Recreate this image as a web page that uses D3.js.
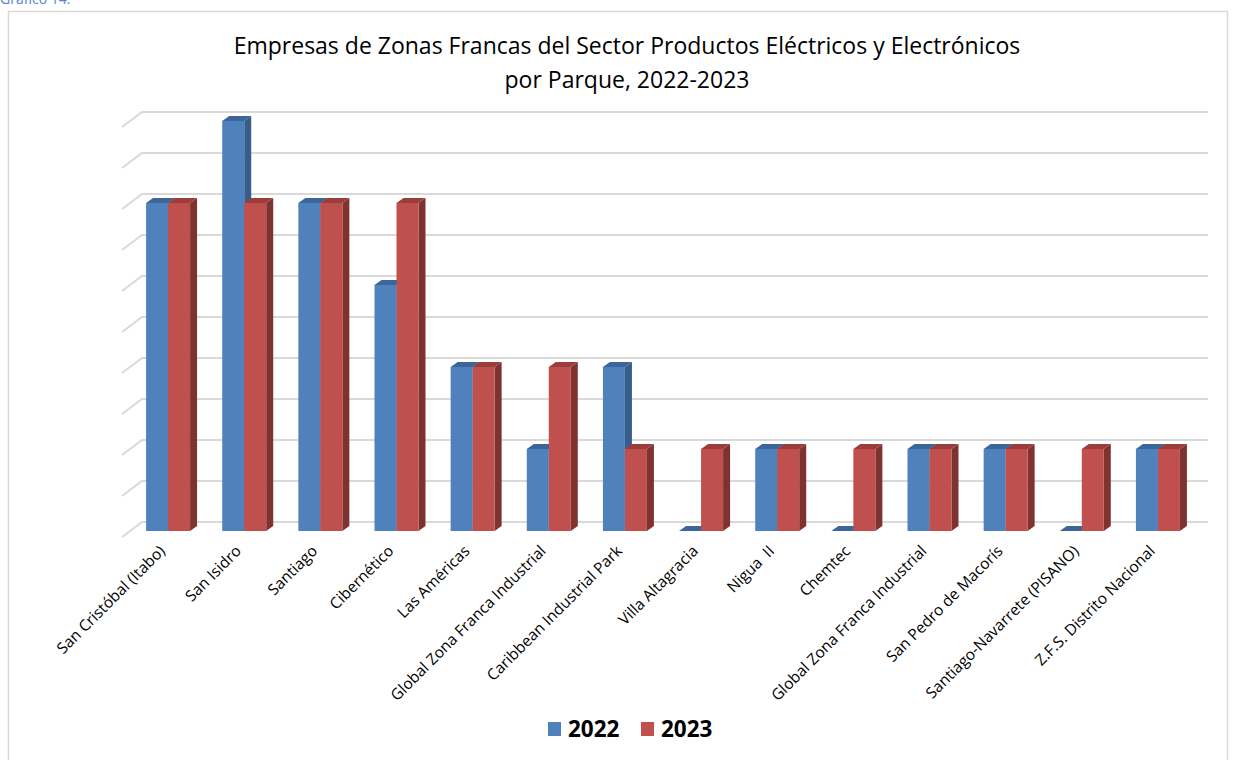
<!DOCTYPE html>
<html><head><meta charset="utf-8">
<script src="https://cdn.jsdelivr.net/npm/d3@7"></script>
<style>body{margin:0;background:#fff}svg{display:block}</style>
</head><body>
<script>
const categories = ["San Cristóbal (Itabo)","San Isidro","Santiago","Cibernético","Las Américas","Global Zona Franca Industrial","Caribbean Industrial Park","Villa Altagracia","Nigua  II","Chemtec","Global Zona Franca Industrial ","San Pedro de Macorís","Santiago-Navarrete (PISANO)","Z.F.S. Distrito Nacional"];
const categoryLabels = ["San Cristóbal (Itabo)","San Isidro","Santiago","Cibernético","Las Américas","Global Zona Franca Industrial","Caribbean Industrial Park","Villa Altagracia","Nigua  II","Chemtec","Global Zona Franca Industrial","San Pedro de Macorís","Santiago-Navarrete (PISANO)","Z.F.S. Distrito Nacional"];
const v2022 = [8,10,8,6,4,2,4,0,2,0,2,2,0,2];
const v2023 = [8,8,8,8,4,4,2,2,2,2,2,2,2,2];
const seriesNames = ["2022","2023"];
const gridTicks = [0,1,2,3,4,5,6,7,8,9,10];
const titleLines = ["Empresas de Zonas Francas del Sector Productos Eléctricos y Electrónicos","por Parque, 2022-2023"];

const W=1235,H=760;
const svg=d3.select("body").append("svg").attr("width",W).attr("height",H);
const font="'Open Sans', sans-serif";

// caption fragment and frame
svg.append("text").attr("x",0).attr("y",4).attr("fill","#5b7fd6").attr("font-family",font).attr("font-size",14).text("Gráfico 14.");
svg.append("rect").attr("x",8.5).attr("y",11.5).attr("width",1219).attr("height",760).attr("fill","#fff").attr("stroke","#d9d9d9").attr("stroke-width",1.5);

// scales (back wall)
const x=d3.scaleBand().domain(categories).range([142,1208]).paddingInner(0).paddingOuter(0);
const y=d3.scaleLinear().domain([0,10]).range([522,112]);
const depth={dx:-20,dy:15};     // floor depth (back -> front)
const barShift={dx:-12,dy:9};   // bar front face relative to back wall
const barDepth={dx:7,dy:-5};    // bar thickness

// gridlines
const g=svg.append("g");
gridTicks.forEach(t=>{
  const yy=y(t);
  g.append("path").attr("d",`M${x.range()[0]+depth.dx},${yy+depth.dy}L${x.range()[0]},${yy}L${x.range()[1]},${yy}`)
   .attr("fill","none").attr("stroke","#d9d9d9").attr("stroke-width",2);
});

// bars
const sub=d3.scaleBand().domain(seriesNames).range([0,44]);
const colors={"2022":{front:"#4f81bd",side:"#385d8a",top:"#3c6699"},"2023":{front:"#c0504d",side:"#7f3331",top:"#9b3d3a"}};
const seriesVals={"2022":v2022,"2023":v2023};
const bw=sub.bandwidth();
const bars=svg.append("g");
categories.forEach((c,i)=>{
  const cx=x(c)+x.bandwidth()/2+barShift.dx;
  seriesNames.forEach(s=>{
    const v=seriesVals[s][i];
    const x0=cx-22+sub(s), x1=x0+bw;
    const yb=y(0)+barShift.dy, yt=y(v)+barShift.dy;
    const col=colors[s];
    if(v>0){
      bars.append("path").attr("d",`M${x1},${yb}L${x1+barDepth.dx},${yb+barDepth.dy}L${x1+barDepth.dx},${yt+barDepth.dy}L${x1},${yt}Z`).attr("fill",col.side);
      bars.append("rect").attr("x",x0).attr("y",yt).attr("width",bw).attr("height",yb-yt).attr("fill",col.front);
    }
    bars.append("path").attr("d",`M${x0},${yt}L${x0+barDepth.dx},${yt+barDepth.dy}L${x1+barDepth.dx},${yt+barDepth.dy}L${x1},${yt}Z`).attr("fill",col.top);
  });
});

// category labels
const lab=svg.append("g");
categories.forEach((c,i)=>{
  const cx=x(c)+x.bandwidth()/2+barShift.dx;
  lab.append("text").attr("transform",`translate(${cx-2},${552}) rotate(-45)`)
    .attr("text-anchor","end").attr("font-family",font).attr("font-size",15.5).attr("fill","#000")
    .style("white-space","pre").text(categoryLabels[i]);
});

// title
titleLines.forEach((t,i)=>{
  svg.append("text").attr("x",627).attr("y",54+i*34).attr("text-anchor","middle")
   .attr("font-family",font).attr("font-size",23).attr("fill","#000").text(t);
});

// legend
const leg=svg.append("g");
const legX=[548,641];
seriesNames.forEach((s,i)=>{
  leg.append("rect").attr("x",legX[i]).attr("y",722).attr("width",13).attr("height",14).attr("fill",colors[s].front);
  leg.append("text").attr("x",legX[i]+20).attr("y",737).attr("font-family",font).attr("font-weight","bold").attr("font-size",22.5).attr("fill","#000").text(s);
});
</script>
</body></html>
